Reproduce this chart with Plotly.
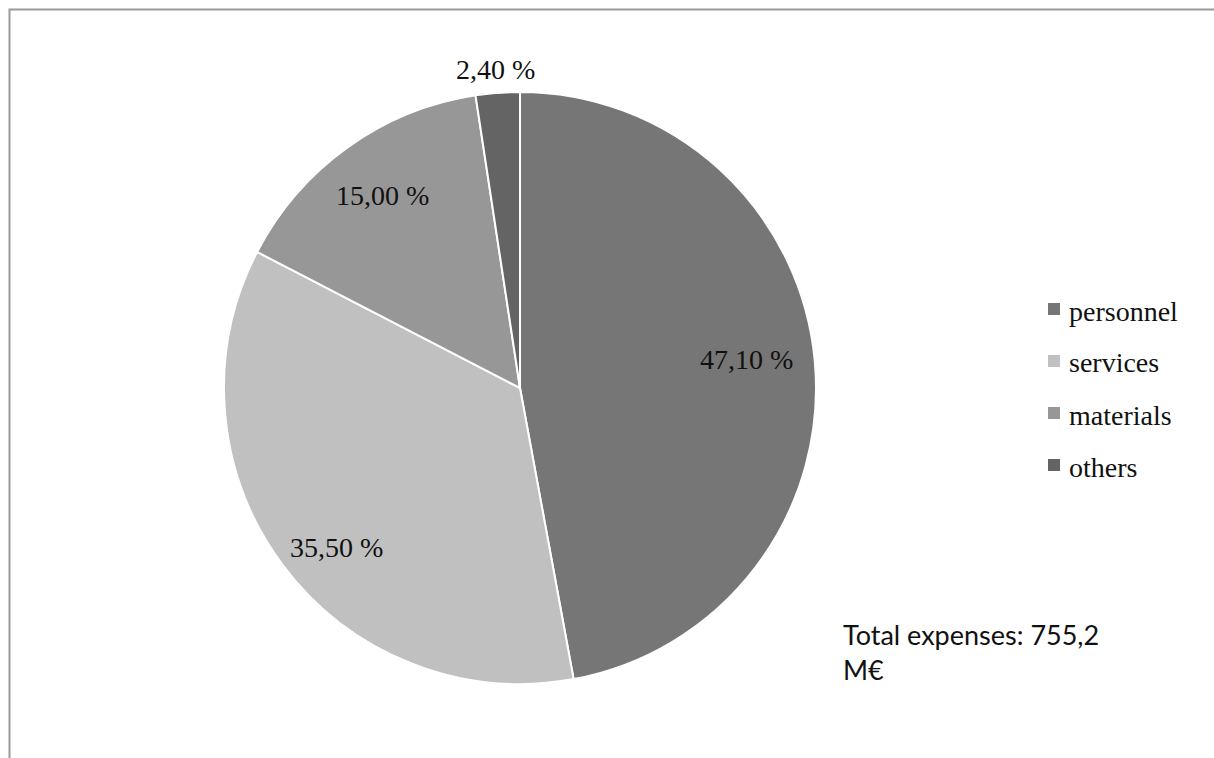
import math
import plotly.graph_objects as go

categories = ["personnel", "services", "materials", "others"]
shares = [47.10, 35.50, 15.00, 2.40]
label_texts = ["47,10 %", "35,50 %", "15,00 %", "2,40 %"]
colors = ["#767676", "#c0c0c0", "#979797", "#646464"]
total_note = "Total expenses: 755,2<br>M€"

W, H = 1214, 758
cx, cy, R = 520, 388, 296  # pie centre / radius in px

fig = go.Figure()
fig.add_trace(go.Pie(
    labels=categories, values=shares, sort=False, direction="clockwise",
    rotation=0, hole=0, textinfo="none", hoverinfo="label+percent",
    marker=dict(colors=colors, line=dict(color="white", width=2)),
    domain=dict(x=[(cx - R) / W, (cx + R) / W], y=[1 - (cy + R) / H, 1 - (cy - R) / H]),
    showlegend=False,
))

serif = "Liberation Serif, DejaVu Serif, serif"
radial = [0.77, 0.82, 0.80, 1.08]
angle_shift = [-2.0, -4.5, 0.0, 0.0]  # degrees, label placement nudges
ann = []
tot = sum(shares)
cum = 0
for v, t, rf, da in zip(shares, label_texts, radial, angle_shift):
    mid = (cum + v / 2) / tot * 2 * math.pi + math.radians(da)
    cum += v
    px = cx + rf * R * math.sin(mid)
    py = cy - rf * R * math.cos(mid)
    ann.append(dict(x=px / W, y=1 - py / H, xref="paper", yref="paper", text=t,
                    showarrow=False, xanchor="center", yanchor="middle",
                    font=dict(family=serif, size=28, color="#111111")))

# legend (drawn manually to match the spacing)
leg_x, leg_y0, leg_dy, sq = 1054, 309, 52, 12
shapes = []
for i, (c, col) in enumerate(zip(categories, colors)):
    y = leg_y0 + i * leg_dy
    shapes.append(dict(type="rect", xref="paper", yref="paper",
                       x0=(leg_x - sq / 2) / W, x1=(leg_x + sq / 2) / W,
                       y0=1 - (y + sq / 2) / H, y1=1 - (y - sq / 2) / H,
                       fillcolor=col, line=dict(width=0)))
    ann.append(dict(x=(leg_x + 13) / W, y=1 - (y + 2) / H, xref="paper", yref="paper",
                    text=c, showarrow=False, xanchor="left", yanchor="middle",
                    font=dict(family=serif, size=28, color="#111111")))

ann.append(dict(x=841 / W, y=1 - 652 / H, xref="paper", yref="paper", text=total_note,
                showarrow=False, xanchor="left", yanchor="middle", align="left",
                font=dict(family="Lato, Open Sans, sans-serif", size=27, color="#111111")))

# chart frame
shapes.append(dict(type="rect", xref="paper", yref="paper",
                   x0=9.5 / W, x1=1.02, y0=-0.02, y1=1 - 9.5 / H,
                   line=dict(color="#9a9a9a", width=2), fillcolor="rgba(0,0,0,0)"))

fig.update_layout(width=W, height=H, margin=dict(l=0, r=0, t=0, b=0),
                  paper_bgcolor="white", plot_bgcolor="white",
                  annotations=ann, shapes=shapes)
fig.write_html("out.html")
